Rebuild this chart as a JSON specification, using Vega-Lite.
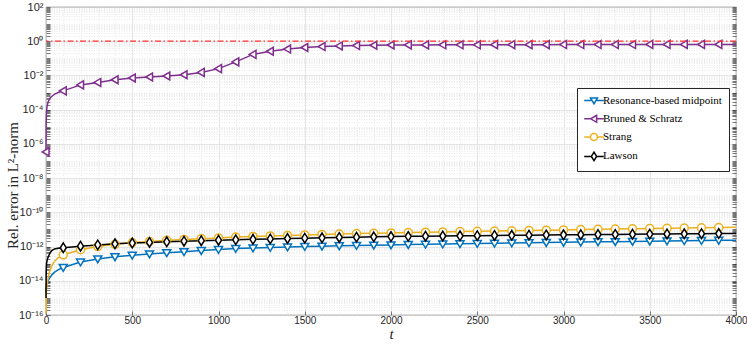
{
  "$schema": "https://vega.github.io/schema/vega-lite/v6.json",
  "width": 690,
  "height": 308,
  "autosize": {"type": "none"},
  "padding": {"left": 46, "top": 7, "right": 11, "bottom": 31},
  "background": "white",
  "config": {
    "view": {"stroke": "#262626", "strokeWidth": 0.8},
    "axis": {
      "domain": false,
      "labelFont": "Liberation Sans",
      "labelFontSize": 10,
      "labelColor": "#262626",
      "tickColor": "#262626",
      "tickWidth": 0.6,
      "titleFont": "Liberation Serif",
      "titleFontWeight": "normal",
      "titleFontSize": 15,
      "titleColor": "#262626"
    }
  },
  "resolve": {"axis": {"y": "independent"}},
  "datasets": {
    "d": [
      {"m": "Bruned & Schratz", "t": 0, "e": 3.4e-7},
      {"m": "Bruned & Schratz", "t": 1, "e": 2e-5},
      {"m": "Bruned & Schratz", "t": 3, "e": 8e-5},
      {"m": "Bruned & Schratz", "t": 6, "e": 1.5e-4},
      {"m": "Bruned & Schratz", "t": 12, "e": 2.8e-4},
      {"m": "Bruned & Schratz", "t": 25, "e": 5e-4},
      {"m": "Bruned & Schratz", "t": 50, "e": 8.2e-4},
      {"m": "Bruned & Schratz", "t": 75, "e": 1.05e-3},
      {"m": "Bruned & Schratz", "t": 100, "e": 1.26e-3},
      {"m": "Bruned & Schratz", "t": 200, "e": 2.8e-3},
      {"m": "Bruned & Schratz", "t": 300, "e": 3.9e-3},
      {"m": "Bruned & Schratz", "t": 400, "e": 5.6e-3},
      {"m": "Bruned & Schratz", "t": 500, "e": 7.1e-3},
      {"m": "Bruned & Schratz", "t": 600, "e": 8.1e-3},
      {"m": "Bruned & Schratz", "t": 700, "e": 9.3e-3},
      {"m": "Bruned & Schratz", "t": 800, "e": 1.1e-2},
      {"m": "Bruned & Schratz", "t": 900, "e": 1.5e-2},
      {"m": "Bruned & Schratz", "t": 1000, "e": 2.5e-2},
      {"m": "Bruned & Schratz", "t": 1100, "e": 6.2e-2},
      {"m": "Bruned & Schratz", "t": 1200, "e": 0.17},
      {"m": "Bruned & Schratz", "t": 1300, "e": 0.26},
      {"m": "Bruned & Schratz", "t": 1400, "e": 0.35},
      {"m": "Bruned & Schratz", "t": 1500, "e": 0.43},
      {"m": "Bruned & Schratz", "t": 1600, "e": 0.49},
      {"m": "Bruned & Schratz", "t": 1700, "e": 0.53},
      {"m": "Bruned & Schratz", "t": 1800, "e": 0.56},
      {"m": "Bruned & Schratz", "t": 1900, "e": 0.58},
      {"m": "Bruned & Schratz", "t": 2000, "e": 0.6},
      {"m": "Bruned & Schratz", "t": 2100, "e": 0.61},
      {"m": "Bruned & Schratz", "t": 2200, "e": 0.61},
      {"m": "Bruned & Schratz", "t": 2300, "e": 0.62},
      {"m": "Bruned & Schratz", "t": 2400, "e": 0.62},
      {"m": "Bruned & Schratz", "t": 2500, "e": 0.62},
      {"m": "Bruned & Schratz", "t": 2600, "e": 0.63},
      {"m": "Bruned & Schratz", "t": 2700, "e": 0.63},
      {"m": "Bruned & Schratz", "t": 2800, "e": 0.63},
      {"m": "Bruned & Schratz", "t": 2900, "e": 0.63},
      {"m": "Bruned & Schratz", "t": 3000, "e": 0.64},
      {"m": "Bruned & Schratz", "t": 3100, "e": 0.64},
      {"m": "Bruned & Schratz", "t": 3200, "e": 0.64},
      {"m": "Bruned & Schratz", "t": 3300, "e": 0.64},
      {"m": "Bruned & Schratz", "t": 3400, "e": 0.64},
      {"m": "Bruned & Schratz", "t": 3500, "e": 0.65},
      {"m": "Bruned & Schratz", "t": 3600, "e": 0.65},
      {"m": "Bruned & Schratz", "t": 3700, "e": 0.65},
      {"m": "Bruned & Schratz", "t": 3800, "e": 0.65},
      {"m": "Bruned & Schratz", "t": 3900, "e": 0.65},
      {"m": "Bruned & Schratz", "t": 4000, "e": 0.65},

      {"m": "Resonance-based midpoint", "t": 0, "e": 2e-15},
      {"m": "Resonance-based midpoint", "t": 3, "e": 5e-15},
      {"m": "Resonance-based midpoint", "t": 8, "e": 8e-15},
      {"m": "Resonance-based midpoint", "t": 20, "e": 1.4e-14},
      {"m": "Resonance-based midpoint", "t": 35, "e": 2.3e-14},
      {"m": "Resonance-based midpoint", "t": 50, "e": 3.2e-14},
      {"m": "Resonance-based midpoint", "t": 75, "e": 4.6e-14},
      {"m": "Resonance-based midpoint", "t": 100, "e": 6e-14},
      {"m": "Resonance-based midpoint", "t": 200, "e": 1.25e-13},
      {"m": "Resonance-based midpoint", "t": 300, "e": 1.9e-13},
      {"m": "Resonance-based midpoint", "t": 400, "e": 2.5e-13},
      {"m": "Resonance-based midpoint", "t": 500, "e": 3.1e-13},
      {"m": "Resonance-based midpoint", "t": 600, "e": 3.7e-13},
      {"m": "Resonance-based midpoint", "t": 700, "e": 4.3e-13},
      {"m": "Resonance-based midpoint", "t": 800, "e": 5e-13},
      {"m": "Resonance-based midpoint", "t": 900, "e": 5.8e-13},
      {"m": "Resonance-based midpoint", "t": 1000, "e": 6.7e-13},
      {"m": "Resonance-based midpoint", "t": 1100, "e": 7.6e-13},
      {"m": "Resonance-based midpoint", "t": 1200, "e": 8.2e-13},
      {"m": "Resonance-based midpoint", "t": 1300, "e": 8.8e-13},
      {"m": "Resonance-based midpoint", "t": 1400, "e": 9.4e-13},
      {"m": "Resonance-based midpoint", "t": 1500, "e": 1.0e-12},
      {"m": "Resonance-based midpoint", "t": 1600, "e": 1.05e-12},
      {"m": "Resonance-based midpoint", "t": 1700, "e": 1.1e-12},
      {"m": "Resonance-based midpoint", "t": 1800, "e": 1.15e-12},
      {"m": "Resonance-based midpoint", "t": 1900, "e": 1.2e-12},
      {"m": "Resonance-based midpoint", "t": 2000, "e": 1.25e-12},
      {"m": "Resonance-based midpoint", "t": 2100, "e": 1.3e-12},
      {"m": "Resonance-based midpoint", "t": 2200, "e": 1.35e-12},
      {"m": "Resonance-based midpoint", "t": 2300, "e": 1.4e-12},
      {"m": "Resonance-based midpoint", "t": 2400, "e": 1.45e-12},
      {"m": "Resonance-based midpoint", "t": 2500, "e": 1.5e-12},
      {"m": "Resonance-based midpoint", "t": 2600, "e": 1.55e-12},
      {"m": "Resonance-based midpoint", "t": 2700, "e": 1.6e-12},
      {"m": "Resonance-based midpoint", "t": 2800, "e": 1.65e-12},
      {"m": "Resonance-based midpoint", "t": 2900, "e": 1.7e-12},
      {"m": "Resonance-based midpoint", "t": 3000, "e": 1.76e-12},
      {"m": "Resonance-based midpoint", "t": 3100, "e": 1.82e-12},
      {"m": "Resonance-based midpoint", "t": 3200, "e": 1.88e-12},
      {"m": "Resonance-based midpoint", "t": 3300, "e": 1.94e-12},
      {"m": "Resonance-based midpoint", "t": 3400, "e": 2.0e-12},
      {"m": "Resonance-based midpoint", "t": 3500, "e": 2.06e-12},
      {"m": "Resonance-based midpoint", "t": 3600, "e": 2.12e-12},
      {"m": "Resonance-based midpoint", "t": 3700, "e": 2.18e-12},
      {"m": "Resonance-based midpoint", "t": 3800, "e": 2.24e-12},
      {"m": "Resonance-based midpoint", "t": 3900, "e": 2.3e-12},
      {"m": "Resonance-based midpoint", "t": 4000, "e": 2.36e-12},

      {"m": "Strang", "t": 0, "e": 1.2e-16},
      {"m": "Strang", "t": 1, "e": 1e-15},
      {"m": "Strang", "t": 3, "e": 3e-15},
      {"m": "Strang", "t": 8, "e": 8e-15},
      {"m": "Strang", "t": 15, "e": 2e-14},
      {"m": "Strang", "t": 25, "e": 4.5e-14},
      {"m": "Strang", "t": 35, "e": 8e-14},
      {"m": "Strang", "t": 50, "e": 1.4e-13},
      {"m": "Strang", "t": 70, "e": 2.2e-13},
      {"m": "Strang", "t": 100, "e": 3.3e-13},
      {"m": "Strang", "t": 200, "e": 6.5e-13},
      {"m": "Strang", "t": 300, "e": 1.0e-12},
      {"m": "Strang", "t": 400, "e": 1.35e-12},
      {"m": "Strang", "t": 500, "e": 1.7e-12},
      {"m": "Strang", "t": 600, "e": 2.0e-12},
      {"m": "Strang", "t": 700, "e": 2.3e-12},
      {"m": "Strang", "t": 800, "e": 2.6e-12},
      {"m": "Strang", "t": 900, "e": 2.9e-12},
      {"m": "Strang", "t": 1000, "e": 3.2e-12},
      {"m": "Strang", "t": 1100, "e": 3.6e-12},
      {"m": "Strang", "t": 1200, "e": 3.9e-12},
      {"m": "Strang", "t": 1300, "e": 4.2e-12},
      {"m": "Strang", "t": 1400, "e": 4.5e-12},
      {"m": "Strang", "t": 1500, "e": 4.8e-12},
      {"m": "Strang", "t": 1600, "e": 5.1e-12},
      {"m": "Strang", "t": 1700, "e": 5.4e-12},
      {"m": "Strang", "t": 1800, "e": 5.7e-12},
      {"m": "Strang", "t": 1900, "e": 6.0e-12},
      {"m": "Strang", "t": 2000, "e": 6.3e-12},
      {"m": "Strang", "t": 2100, "e": 6.6e-12},
      {"m": "Strang", "t": 2200, "e": 6.9e-12},
      {"m": "Strang", "t": 2300, "e": 7.2e-12},
      {"m": "Strang", "t": 2400, "e": 7.5e-12},
      {"m": "Strang", "t": 2500, "e": 7.8e-12},
      {"m": "Strang", "t": 2600, "e": 8.1e-12},
      {"m": "Strang", "t": 2700, "e": 8.4e-12},
      {"m": "Strang", "t": 2800, "e": 8.7e-12},
      {"m": "Strang", "t": 2900, "e": 9.0e-12},
      {"m": "Strang", "t": 3000, "e": 9.4e-12},
      {"m": "Strang", "t": 3100, "e": 9.8e-12},
      {"m": "Strang", "t": 3200, "e": 1.01e-11},
      {"m": "Strang", "t": 3300, "e": 1.05e-11},
      {"m": "Strang", "t": 3400, "e": 1.09e-11},
      {"m": "Strang", "t": 3500, "e": 1.13e-11},
      {"m": "Strang", "t": 3600, "e": 1.17e-11},
      {"m": "Strang", "t": 3700, "e": 1.21e-11},
      {"m": "Strang", "t": 3800, "e": 1.25e-11},
      {"m": "Strang", "t": 3900, "e": 1.29e-11},
      {"m": "Strang", "t": 4000, "e": 1.33e-11},

      {"m": "Lawson", "t": 0, "e": 1e-15},
      {"m": "Lawson", "t": 1, "e": 3e-14},
      {"m": "Lawson", "t": 3, "e": 1e-13},
      {"m": "Lawson", "t": 8, "e": 1.8e-13},
      {"m": "Lawson", "t": 15, "e": 2.8e-13},
      {"m": "Lawson", "t": 25, "e": 4.5e-13},
      {"m": "Lawson", "t": 35, "e": 6e-13},
      {"m": "Lawson", "t": 50, "e": 7.3e-13},
      {"m": "Lawson", "t": 70, "e": 8e-13},
      {"m": "Lawson", "t": 100, "e": 8.5e-13},
      {"m": "Lawson", "t": 200, "e": 1.05e-12},
      {"m": "Lawson", "t": 300, "e": 1.25e-12},
      {"m": "Lawson", "t": 400, "e": 1.45e-12},
      {"m": "Lawson", "t": 500, "e": 1.6e-12},
      {"m": "Lawson", "t": 600, "e": 1.75e-12},
      {"m": "Lawson", "t": 700, "e": 1.9e-12},
      {"m": "Lawson", "t": 800, "e": 2.05e-12},
      {"m": "Lawson", "t": 900, "e": 2.2e-12},
      {"m": "Lawson", "t": 1000, "e": 2.35e-12},
      {"m": "Lawson", "t": 1100, "e": 2.5e-12},
      {"m": "Lawson", "t": 1200, "e": 2.65e-12},
      {"m": "Lawson", "t": 1300, "e": 2.8e-12},
      {"m": "Lawson", "t": 1400, "e": 2.95e-12},
      {"m": "Lawson", "t": 1500, "e": 3.1e-12},
      {"m": "Lawson", "t": 1600, "e": 3.25e-12},
      {"m": "Lawson", "t": 1700, "e": 3.4e-12},
      {"m": "Lawson", "t": 1800, "e": 3.55e-12},
      {"m": "Lawson", "t": 1900, "e": 3.7e-12},
      {"m": "Lawson", "t": 2000, "e": 3.85e-12},
      {"m": "Lawson", "t": 2100, "e": 3.95e-12},
      {"m": "Lawson", "t": 2200, "e": 4.05e-12},
      {"m": "Lawson", "t": 2300, "e": 4.15e-12},
      {"m": "Lawson", "t": 2400, "e": 4.25e-12},
      {"m": "Lawson", "t": 2500, "e": 4.35e-12},
      {"m": "Lawson", "t": 2600, "e": 4.45e-12},
      {"m": "Lawson", "t": 2700, "e": 4.55e-12},
      {"m": "Lawson", "t": 2800, "e": 4.65e-12},
      {"m": "Lawson", "t": 2900, "e": 4.75e-12},
      {"m": "Lawson", "t": 3000, "e": 4.85e-12},
      {"m": "Lawson", "t": 3100, "e": 4.95e-12},
      {"m": "Lawson", "t": 3200, "e": 5.05e-12},
      {"m": "Lawson", "t": 3300, "e": 5.15e-12},
      {"m": "Lawson", "t": 3400, "e": 5.25e-12},
      {"m": "Lawson", "t": 3500, "e": 5.35e-12},
      {"m": "Lawson", "t": 3600, "e": 5.45e-12},
      {"m": "Lawson", "t": 3700, "e": 5.55e-12},
      {"m": "Lawson", "t": 3800, "e": 5.65e-12},
      {"m": "Lawson", "t": 3900, "e": 5.75e-12},
      {"m": "Lawson", "t": 4000, "e": 5.85e-12}
    ]
  },
  "layer": [
    {
      "data": {"name": "d"},
      "encoding": {
        "x": {
          "field": "t",
          "type": "quantitative",
          "scale": {"domain": [0, 4000], "nice": false},
          "axis": {
            "title": "t",
            "titleFontStyle": "italic",
            "titlePadding": 1,
            "values": [0,100,200,300,400,500,600,700,800,900,1000,1100,1200,1300,1400,1500,1600,1700,1800,1900,2000,2100,2200,2300,2400,2500,2600,2700,2800,2900,3000,3100,3200,3300,3400,3500,3600,3700,3800,3900,4000],
            "labelExpr": "datum.value % 500 == 0 ? format(datum.value, 'd') : ''",
            "labelFlush": false,
            "labelPadding": 4,
            "tickSize": -4,
            "tickOpacity": {"condition": {"test": "datum.value % 500 == 0", "value": 1}, "value": 0},
            "gridColor": {"condition": {"test": "datum.value % 500 == 0", "value": "#dedede"}, "value": "#e6e6e6"},
            "gridDash": {"condition": {"test": "datum.value % 500 == 0", "value": []}, "value": [1, 1.5]},
            "gridWidth": 0.8
          }
        },
        "y": {
          "field": "e",
          "type": "quantitative",
          "scale": {"type": "log", "domain": [1e-16, 100], "nice": false},
          "axis": {
            "title": "Rel. error in L²-norm",
            "titleX": -34,
            "titleY": 178,
            "titleAlign": "center",
            "titleBaseline": "middle",
            "titleAngle": -90,
            "values": [1e-16,2e-16,3e-16,4e-16,5e-16,6e-16,7e-16,8e-16,9e-16,1e-15,2e-15,3e-15,4e-15,5e-15,6e-15,7e-15,8e-15,9e-15,1e-14,2e-14,3e-14,4e-14,5e-14,6e-14,7e-14,8e-14,9e-14,1e-13,2e-13,3e-13,4e-13,5e-13,6e-13,7e-13,8e-13,9e-13,1e-12,2e-12,3e-12,4e-12,5e-12,6e-12,7e-12,8e-12,9e-12,1e-11,2e-11,3e-11,4e-11,5e-11,6e-11,7e-11,8e-11,9e-11,1e-10,2e-10,3e-10,4e-10,5e-10,6e-10,7e-10,8e-10,9e-10,1e-9,2e-9,3e-9,4e-9,5e-9,6e-9,7e-9,8e-9,9e-9,1e-8,2e-8,3e-8,4e-8,5e-8,6e-8,7e-8,8e-8,9e-8,1e-7,2e-7,3e-7,4e-7,5e-7,6e-7,7e-7,8e-7,9e-7,1e-6,2e-6,3e-6,4e-6,5e-6,6e-6,7e-6,8e-6,9e-6,1e-5,2e-5,3e-5,4e-5,5e-5,6e-5,7e-5,8e-5,9e-5,1e-4,2e-4,3e-4,4e-4,5e-4,6e-4,7e-4,8e-4,9e-4,1e-3,2e-3,3e-3,4e-3,5e-3,6e-3,7e-3,8e-3,9e-3,1e-2,2e-2,3e-2,4e-2,5e-2,6e-2,7e-2,8e-2,9e-2,0.1,0.2,0.3,0.4,0.5,0.6,0.7,0.8,0.9,1,2,3,4,5,6,7,8,9,10,20,30,40,50,60,70,80,90,100],
            "labelExpr": "abs(log(datum.value)/LN10 - round(log(datum.value)/LN10)) > 0.001 || round(log(datum.value)/LN10) % 2 != 0 ? '' : ['10⁻¹⁶','','10⁻¹⁴','','10⁻¹²','','10⁻¹⁰','','10⁻⁸','','10⁻⁶','','10⁻⁴','','10⁻²','','10⁰','','10²'][round(log(datum.value)/LN10) + 16]",
            "labelFontSize": 11,
            "labelPadding": 7,
            "tickSize": -4,
            "gridColor": {"condition": {"test": "abs(log(datum.value)/LN10 - round(log(datum.value)/LN10)) < 0.001 && round(log(datum.value)/LN10) % 2 == 0", "value": "#dedede"}, "value": "#e6e6e6"},
            "gridDash": {"condition": {"test": "abs(log(datum.value)/LN10 - round(log(datum.value)/LN10)) < 0.001 && round(log(datum.value)/LN10) % 2 == 0", "value": []}, "value": [1, 1.5]},
            "gridWidth": 0.8
          }
        },
        "color": {
          "field": "m",
          "type": "nominal",
          "title": null,
          "scale": {"domain": ["Resonance-based midpoint", "Bruned & Schratz", "Strang", "Lawson"], "range": ["#0072BD", "#7E2F8E", "#EDB120", "#000000"]},
          "legend": {
            "orient": "none",
            "legendX": 531,
            "legendY": 81,
            "title": null,
            "fillColor": "white",
            "strokeColor": "#262626",
            "padding": 7,
            "labelFont": "Liberation Serif",
            "labelFontSize": 11,
            "labelColor": "#000000",
            "labelExpr": "datum.label + '\u2002\u2002'",
            "symbolSize": 49,
            "symbolStrokeWidth": 1.5,
            "symbolOffset": 4.5,
            "labelOffset": 3.5,
            "rowPadding": 5.3
          }
        }
      },
      "layer": [
        {
          "mark": {"type": "line", "strokeWidth": 1.5, "interpolate": "linear"}
        },
        {
          "transform": [{"filter": "datum.m == 'Resonance-based midpoint' && datum.t % 100 == 0 && datum.t > 0 && datum.t < 4000"}],
          "mark": {"type": "point", "shape": "M-1,-0.75L1,-0.75L0,0.95Z", "size": 64, "filled": false, "fill": "white", "fillOpacity": 1, "strokeWidth": 1.5, "opacity": 1}
        },
        {
          "transform": [{"filter": "datum.m == 'Bruned & Schratz' && datum.t % 100 == 0 && datum.t < 4000"}],
          "mark": {"type": "point", "shape": "M0.75,-1L0.75,1L-0.95,0Z", "size": 64, "filled": false, "fill": "white", "fillOpacity": 1, "strokeWidth": 1.5, "opacity": 1}
        },
        {
          "transform": [{"filter": "datum.m == 'Strang' && datum.t % 100 == 0 && datum.t > 0 && datum.t < 4000"}],
          "mark": {"type": "point", "shape": "circle", "size": 64, "filled": false, "fill": "white", "fillOpacity": 1, "strokeWidth": 1.5, "opacity": 1}
        },
        {
          "transform": [{"filter": "datum.m == 'Lawson' && datum.t % 100 == 0 && datum.t > 0 && datum.t < 4000"}],
          "mark": {"type": "point", "shape": "M0,-1.2L0.75,0L0,1.2L-0.75,0Z", "size": 64, "filled": false, "fill": "white", "fillOpacity": 1, "strokeWidth": 1.5, "opacity": 1}
        },
        {
          "transform": [{"filter": "datum.t == 4000"}],
          "mark": {"type": "point", "filled": false, "strokeWidth": 1.5, "clip": true, "xOffset": 300},
          "encoding": {
            "shape": {
              "field": "m",
              "type": "nominal",
              "title": null,
              "scale": {
                "domain": ["Resonance-based midpoint", "Bruned & Schratz", "Strang", "Lawson"],
                "range": [
                  "M-2.8,0H-0.8M0.8,0H2.8M-1,-0.75L1,-0.75L0,0.95Z",
                  "M-2.8,0H-0.95M0.75,0H2.8M0.75,-1L0.75,1L-0.95,0Z",
                  "M-2.8,0H-1M1,0H2.8M-1,0A1,1,0,1,1,1,0A1,1,0,1,1,-1,0Z",
                  "M-2.8,0H-0.75M0.75,0H2.8M0,-1.2L0.75,0L0,1.2L-0.75,0Z"
                ]
              },
              "legend": {
                "orient": "none",
                "legendX": 531,
                "legendY": 81,
                "title": null,
                "fillColor": "white",
                "strokeColor": "#262626",
                "padding": 7,
                "labelFont": "Liberation Serif",
                "labelFontSize": 11,
                "labelColor": "#000000",
                "labelExpr": "datum.label + '\u2002\u2002'",
                "symbolSize": 49,
                "symbolStrokeWidth": 1.5,
                "symbolOffset": 4.5,
                "labelOffset": 3.5,
                "rowPadding": 5.3
              }
            }
          }
        }
      ]
    },
    {
      "data": {"values": [{"y": 1}]},
      "mark": {"type": "rule", "color": "#ff3030", "strokeWidth": 1.3, "strokeDash": [6, 2.5, 1.5, 2.5]},
      "encoding": {
        "y": {
          "datum": 1,
          "type": "quantitative",
          "axis": {
            "orient": "right",
            "title": null,
            "labels": false,
            "grid": false,
            "tickSize": -4,
            "values": [1e-16,2e-16,3e-16,4e-16,5e-16,6e-16,7e-16,8e-16,9e-16,1e-15,2e-15,3e-15,4e-15,5e-15,6e-15,7e-15,8e-15,9e-15,1e-14,2e-14,3e-14,4e-14,5e-14,6e-14,7e-14,8e-14,9e-14,1e-13,2e-13,3e-13,4e-13,5e-13,6e-13,7e-13,8e-13,9e-13,1e-12,2e-12,3e-12,4e-12,5e-12,6e-12,7e-12,8e-12,9e-12,1e-11,2e-11,3e-11,4e-11,5e-11,6e-11,7e-11,8e-11,9e-11,1e-10,2e-10,3e-10,4e-10,5e-10,6e-10,7e-10,8e-10,9e-10,1e-9,2e-9,3e-9,4e-9,5e-9,6e-9,7e-9,8e-9,9e-9,1e-8,2e-8,3e-8,4e-8,5e-8,6e-8,7e-8,8e-8,9e-8,1e-7,2e-7,3e-7,4e-7,5e-7,6e-7,7e-7,8e-7,9e-7,1e-6,2e-6,3e-6,4e-6,5e-6,6e-6,7e-6,8e-6,9e-6,1e-5,2e-5,3e-5,4e-5,5e-5,6e-5,7e-5,8e-5,9e-5,1e-4,2e-4,3e-4,4e-4,5e-4,6e-4,7e-4,8e-4,9e-4,1e-3,2e-3,3e-3,4e-3,5e-3,6e-3,7e-3,8e-3,9e-3,1e-2,2e-2,3e-2,4e-2,5e-2,6e-2,7e-2,8e-2,9e-2,0.1,0.2,0.3,0.4,0.5,0.6,0.7,0.8,0.9,1,2,3,4,5,6,7,8,9,10,20,30,40,50,60,70,80,90,100]
          }
        }
      }
    }
  ]
}
